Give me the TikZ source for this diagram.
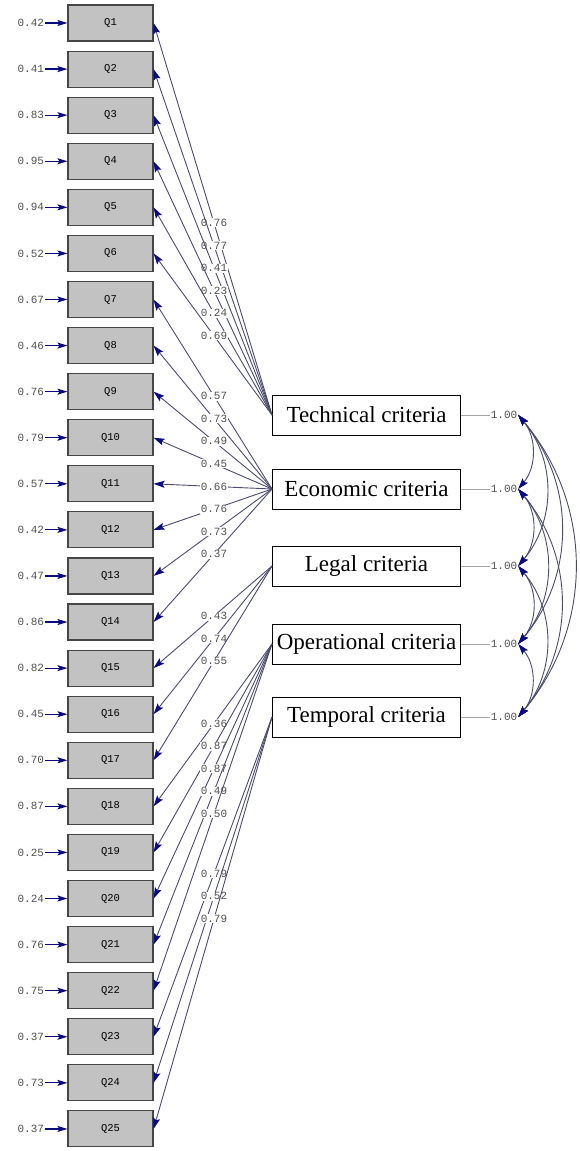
\documentclass[tikz,border=0pt]{standalone}
\usepackage{fontspec}
\setmainfont{Liberation Serif}
\newfontfamily\monofont{Liberation Mono}
\usetikzlibrary{arrows.meta,calc}

\definecolor{pathcol}{RGB}{75,75,110}
\definecolor{headcol}{RGB}{10,10,130}
\definecolor{obsfill}{RGB}{194,194,194}
\definecolor{obsdraw}{RGB}{70,70,70}
\definecolor{numcol}{RGB}{80,80,80}
\definecolor{varcol}{RGB}{165,165,165}

\begin{document}
\begin{tikzpicture}[x=1pt,y=-1pt,
  obs/.style={draw=obsdraw, fill=obsfill, line width=1.1pt, minimum width=85pt,
    minimum height=36pt, inner sep=0pt, font=\monofont\fontsize{10.5}{10.5}\selectfont},
  lat/.style={draw=black, line width=1pt, fill=white, minimum width=188pt,
    minimum height=40pt, inner sep=0pt, font=\fontsize{23}{23}\selectfont},
  num/.style={font=\monofont\fontsize{11}{11}\selectfont, text=numcol, inner sep=0.8pt},
  head/.style={Stealth[length=11pt,width=7pt,inset=2pt,color=headcol]},
  load/.style={draw=pathcol, line width=0.9pt, -{Stealth[length=11pt,width=7pt,inset=2pt,color=headcol]}},
  err/.style={draw=headcol, line width=1.2pt, -{Stealth[length=10pt,width=6pt,inset=2pt,color=headcol]}},
  cov/.style={draw=pathcol, line width=0.9pt,
    {Stealth[length=11pt,width=7pt,inset=2pt,color=headcol]}-{Stealth[length=11pt,width=7pt,inset=2pt,color=headcol]}},
  varline/.style={draw=varcol, line width=0.8pt}
]
\useasboundingbox (0,0) rectangle (579,1151);

% observed indicators with their error variances
\foreach \i/\e in {1/0.42,2/0.41,3/0.83,4/0.95,5/0.94,6/0.52,7/0.67,8/0.46,9/0.76,
    10/0.79,11/0.57,12/0.42,13/0.47,14/0.86,15/0.82,16/0.45,17/0.70,18/0.87,
    19/0.25,20/0.24,21/0.76,22/0.75,23/0.37,24/0.73,25/0.37} {
  \node[obs] (q\i) at (110.5,{23+(\i-1)*46.08}) {Q\i};
  \node[num, anchor=east] (e\i) at (45,{23+(\i-1)*46.08}) {\e};
  \draw[err] (e\i.east) -- (q\i.west);
}

% latent factors
\node[lat] (T) at (366.5,415) {Technical criteria};
\node[lat] (E) at (366.5,489) {Economic criteria};
\node[lat] (L) at (366.5,566) {Legal criteria};
\node[lat] (O) at (366.5,644) {Operational criteria};
\node[lat] (P) at (366.5,717) {Temporal criteria};

% factor variances
\foreach \f/\y in {T/415,E/489,L/566,O/644,P/717} {
  \node[num] (v\f) at (504,\y) {1.00};
  \draw[varline] (\f.east) -- (v\f.west);
}

% factor loadings
\foreach \f/\i/\v in {T/1/0.76,T/2/0.77,T/3/0.41,T/4/0.23,T/5/0.24,T/6/0.69,
    E/7/0.57,E/8/0.73,E/9/0.49,E/10/0.45,E/11/0.66,E/12/0.76,E/13/0.73,E/14/0.37,
    L/15/0.43,L/16/0.74,L/17/0.55,
    O/18/0.36,O/19/0.87,O/20/0.87,O/21/0.49,O/22/0.50,
    P/23/0.79,P/24/0.52,P/25/0.79} {
  \draw[load] (\f.west) -- node[num, fill=white, pos=0.49] (w\i) {\v} (q\i.east);
}

% factor covariances
\foreach \a/\b in {T/E,T/L,T/O,T/P,E/L,E/O,E/P,L/O,L/P,O/P} {
  \draw[cov] (v\a.east) to[bend left=40] (v\b.east);
}
\end{tikzpicture}
\end{document}
